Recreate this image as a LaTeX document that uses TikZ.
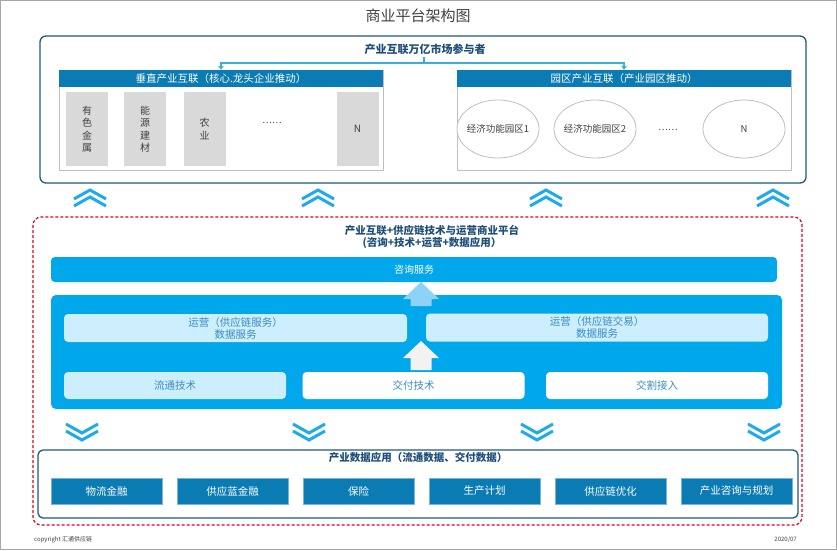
\documentclass[tikz,border=0pt]{standalone}
\usepackage{fontspec}
\setmainfont{Noto Sans CJK SC}
\usetikzlibrary{shapes.geometric, arrows.meta, positioning}
\definecolor{frameblue}{HTML}{1B5B7C}
\definecolor{headblue}{HTML}{1F4E79}
\definecolor{barblue}{HTML}{0B7BB3}
\definecolor{skyblue}{HTML}{00A7EB}
\definecolor{paleblue}{HTML}{CDEEFC}
\definecolor{softtext}{HTML}{3A8CC6}
\definecolor{chevblue}{HTML}{1FAAEF}
\definecolor{linkblue}{HTML}{3BAEE0}
\definecolor{arrowlight}{HTML}{8DD3F7}
\definecolor{arrowwhite}{HTML}{F2F2F2}
\definecolor{dashred}{HTML}{E0001B}
\definecolor{cellgray}{HTML}{D9D9D9}
\definecolor{inkgray}{HTML}{404040}
\tikzset{
  frame/.style={draw=frameblue, line width=1.3pt, rounded corners=6pt, inner sep=0pt},
  heading/.style={font=\bfseries\fontsize{10.5}{12}\selectfont, text=headblue, align=center},
  headbar/.style={fill=barblue, text=white, minimum height=17pt, inner sep=0pt,
    font=\fontsize{10.5}{12}\selectfont},
  panel/.style={draw=gray!50, line width=0.8pt, fill=white, minimum height=100pt, inner sep=0pt},
  cell/.style={fill=cellgray, minimum width=42pt, minimum height=74pt, inner sep=0pt,
    text=inkgray, align=center, font=\fontsize{10}{12.5}\selectfont},
  zone/.style={ellipse, draw=gray!50, line width=0.8pt, fill=white, minimum width=82pt,
    minimum height=58pt, inner sep=0pt, text=inkgray, font=\fontsize{9.5}{11}\selectfont},
  dots/.style={text=inkgray, font=\fontsize{9}{10}\selectfont},
  consult/.style={fill=skyblue, rounded corners=4pt, text=white, minimum height=25pt,
    inner sep=0pt, font=\fontsize{10}{12}\selectfont},
  corebox/.style={fill=skyblue, rounded corners=5pt, minimum height=114pt, inner sep=0pt},
  opsbox/.style={fill=paleblue, rounded corners=4pt, text=softtext, align=center,
    minimum height=28pt, inner sep=0pt, font=\fontsize{10.5}{12}\selectfont},
  techbox/.style={rounded corners=4pt, text=softtext, minimum width=222pt,
    minimum height=27pt, inner sep=0pt, font=\fontsize{10.5}{12}\selectfont},
  appbox/.style={fill=barblue, draw=barblue!55!white, line width=0.6pt, text=white,
    minimum width=111pt, minimum height=26pt, inner sep=0pt, font=\fontsize{10.5}{12}\selectfont},
  link/.style={draw=linkblue, line width=1.2pt},
  chev/.style={draw=chevblue, line width=3pt, line join=miter},
  footer/.style={text=inkgray, font=\fontsize{6}{7}\selectfont, inner sep=0pt},
  pics/chevup/.style={code={
    \draw[chev] (-16,9) -- (0,0) -- (16,9);
    \draw[chev] (-16,16) -- (0,7) -- (16,16);}},
  pics/chevdown/.style={code={
    \draw[chev] (-16,0) -- (0,9) -- (16,0);
    \draw[chev] (-16,7) -- (0,16) -- (16,7);}},
  pics/blockup/.style={code={
    \fill (0,0) -- (18,17) -- (10.5,17) -- (10.5,#1) -- (-10.5,#1)
      -- (-10.5,17) -- (-18,17) -- cycle;}}
}
\newcommand{\zonetext}[1]{\makebox[0pt]{#1}}

\begin{document}
\begin{tikzpicture}[x=1pt, y=-1pt]
\useasboundingbox (0,0) rectangle (837,550);
\draw[gray!70, line width=1pt] (0.5,0.5) rectangle (836.5,549.5);

\node (title) at (418,16) [text=inkgray, font=\fontsize{15}{17}\selectfont] {商业平台架构图};

% market participants
\node (market) at (423,109.5) [frame, minimum width=766pt, minimum height=147pt] {};
\node (markettitle) at (425,49) [heading, font=\bfseries\fontsize{11}{13}\selectfont] {产业互联万亿市场参与者};

\node (vpanel) at (221,120) [panel, minimum width=324pt] {};
\node (vhead)  at (221,78.5) [headbar, minimum width=324pt] {垂直产业互联（核心.龙头企业推动）};
\node (metal)  at (87,129)    [cell] {有\\色\\金\\属};
\node (energy) at (145,129)   [cell] {能\\源\\建\\材};
\node (farm)   at (204.5,129) [cell] {农\\业};
\node (vdots)  at (272,123)   [dots] {……};
\node (vlast)  at (357.5,129) [cell] {N};

\node (ppanel) at (624,120) [panel, minimum width=334pt] {};
\node (phead)  at (624,78.5) [headbar, minimum width=334pt] {园区产业互联（产业园区推动）};
\node (zone1)  at (498,129) [zone] {\zonetext{经济功能园区1}};
\node (zone2)  at (595,129) [zone] {\zonetext{经济功能园区2}};
\node (pdots)  at (668,130) [dots] {……};
\node (plast)  at (744,129) [zone] {N};

\coordinate (forktop) at (424,57);
\coordinate (fork) at (424,63);
\draw[link] (forktop) -- (fork);
\draw[link, -{Stealth[length=4pt, width=6pt]}] (fork) -| (vhead.north);
\draw[link, -{Stealth[length=4pt, width=6pt]}] (fork) -| (phead.north);

\foreach \x in {90,318,546,773}
  \pic at (\x,190) {chevup};

% platform
\draw[dashred, dashed, dash pattern=on 3pt off 2pt, line width=1.2pt, rounded corners=8pt]
  (33,217) rectangle (802,525);
\node (platform) at (432,237) [heading] {产业互联+供应链技术与运营商业平台\\(咨询+技术+运营+数据应用）};

\node (advice) at (414,269.5) [consult, minimum width=726pt] {咨询服务};
\node (core)   at (416.5,352) [corebox, minimum width=731pt] {};
\node (ops1)   at (235.5,328) [opsbox, minimum width=343pt] {运营（供应链服务）\\数据服务};
\node (ops2)   at (597,327.5) [opsbox, minimum width=342pt] {运营（供应链交易）\\数据服务};
\node (flow)     at (175,385.5)   [techbox, fill=paleblue] {流通技术};
\node (deliver)  at (413.5,385.5) [techbox, fill=white] {交付技术};
\node (handover) at (657,385.5)   [techbox, fill=white] {交割接入};

\pic[fill=arrowlight] at (421,282) {blockup=24};
\pic[fill=arrowwhite] at (421,341) {blockup=29};

\foreach \x in {82,309,537,764}
  \pic at (\x,424) {chevdown};

% data applications
\node (data) at (418,484) [frame, rounded corners=5pt, minimum width=760pt, minimum height=68pt] {};
\node (datatitle) at (418,458) [heading] {产业数据应用（流通数据、交付数据）};
\foreach \name [count=\i from 0] in {物流金融,供应蓝金融,保险,生产计划,供应链优化,产业咨询与规划}
  \node (app\i) at (106.5+126*\i,491) [appbox] {\name};

\node (copyright) at (34,540) [footer, anchor=west] {copyright 汇通供应链};
\node (date) at (797,540) [footer, anchor=east] {2020/07};
\end{tikzpicture}
\end{document}
